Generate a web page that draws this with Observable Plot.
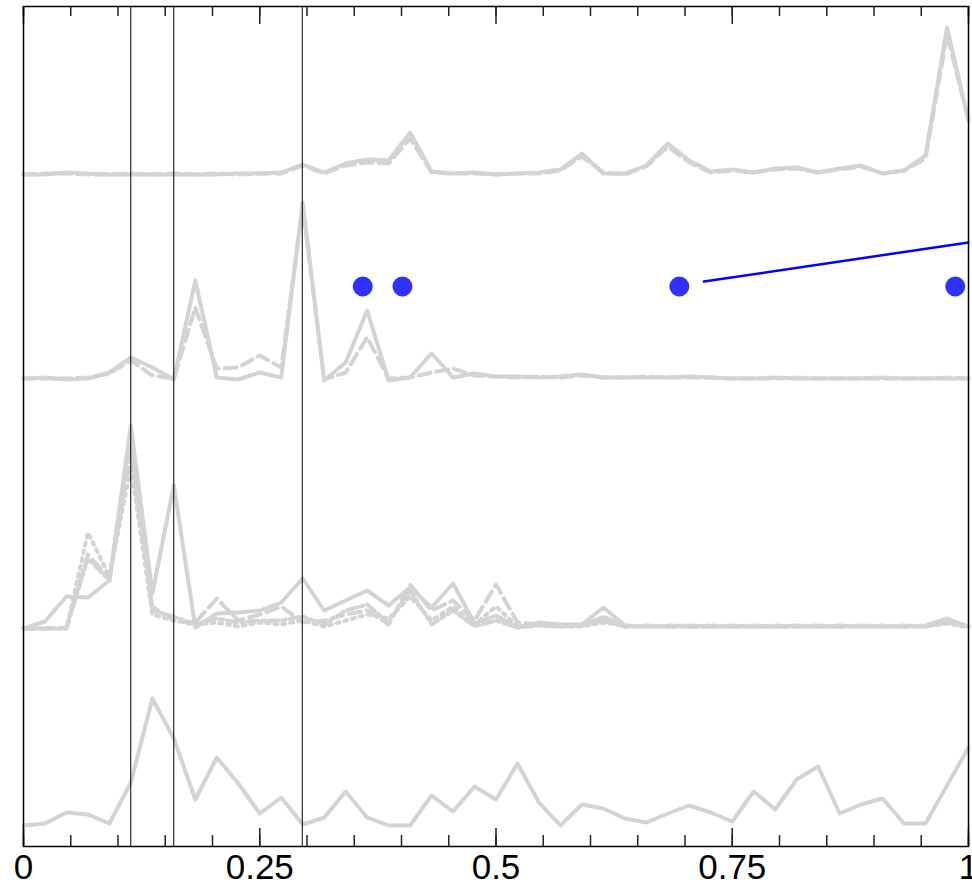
<!DOCTYPE html>
<html>
<head>
<meta charset="utf-8">
<script src="https://cdn.jsdelivr.net/npm/d3@7"></script>
<script src="https://cdn.jsdelivr.net/npm/@observablehq/plot@0.6"></script>
<style>
  html, body { margin: 0; padding: 0; background: #fff; }
  #chart svg { display: block; font-family: "Liberation Sans", Arial, sans-serif; }
</style>
</head>
<body>
<div id="chart"></div>
<script>
// Sample grid: 45 evenly spaced positions on [0, 1]
const sampleX = d3.range(45).map(i => i / 44);

// Stacked traces (top to bottom), each already carrying its stacking offset
const g1Solid  = [672,672,674,673,672,672,672,672,672,672,673,673,674,682,674,683,687,686,714,675,673,674,672,673,674,677,693,673,673,681,703,686,675,677,674,678,679,674,678,681,673,676,691,819,726];
const g1Dashed = [672,673,673,672,672,673,672,673,672,673,672,673,673,681,673,681,684,683,708,674,673,673,672,673,673,676,690,674,672,680,700,684,674,676,674,677,678,674,677,680,673,676,688,812,726];

const g2Solid  = [468,469,467,468,474,489,479,467,566,469,467,474,469,644,466,484,536,466,469,493,469,473,470,470,469,470,472,469,469,469,469,470,469,468,468,469,468,468,468,468,469,468,468,468,468];
const g2Dashed = [468,468,468,469,473,486,471,468,539,478,479,491,479,640,467,474,509,468,469,474,478,471,470,469,470,469,471,469,469,470,469,469,469,468,468,468,469,468,468,468,468,468,468,469,468];

const g3Solid   = [218,225,250,249,266,421,253,361,219,233,234,236,244,268,236,246,256,241,259,239,263,223,231,219,224,222,222,239,221,220,220,221,220,220,220,220,221,220,220,221,220,220,221,228,220];
const g3Dashed  = [218,218,219,292,268,395,240,226,224,248,226,232,240,224,226,232,236,222,262,236,246,226,262,224,222,221,221,226,220,220,221,220,220,221,220,220,220,221,220,220,220,221,220,224,220];
const g3Dotted  = [218,218,218,314,270,380,232,226,222,224,220,224,222,226,220,226,232,228,250,226,240,222,240,220,221,220,220,224,221,220,220,220,221,220,220,221,220,220,220,220,221,220,220,223,219];
const g3DashDot = [218,218,218,288,266,410,236,230,222,228,224,226,226,230,222,236,242,224,256,222,236,220,226,219,221,220,221,230,220,221,220,220,220,220,221,220,220,220,221,220,220,220,220,225,220];

const g4Solid = [21,23,34,32,23,64,148,108,47,89,63,33,49,22,29,55,29,21,21,51,35,60,47,83,44,21,42,38,28,24,33,41,34,25,55,37,67,80,33,42,48,23,23,61,99];

// Vertical reference positions
const refX = [0.1135, 0.159, 0.295];

// Highlighted points and segment
const dotX = [0.359, 0.401, 0.694, 0.986];
const dotY = [560, 560, 560, 560];
const segX = [0.72, 1.0];
const segY = [565, 604];

// Axis ticks
const majorTicks = [0, 0.25, 0.5, 0.75, 1];
const minorTicks = d3.range(21).map(i => i / 20);

const traces = [
  {values: g1Solid, dash: null},
  {values: g1Dashed, dash: "12,6"},
  {values: g2Dashed, dash: "12,6"},
  {values: g2Solid, dash: null},
  {values: g3Dashed, dash: "12,6"},
  {values: g3Dotted, dash: "3,5"},
  {values: g3DashDot, dash: "10,4,3,4"},
  {values: g3Solid, dash: null},
  {values: g4Solid, dash: null}
];

const gray = "#d3d3d3";
const plotH = 840;

const lineMarks = traces.map(t =>
  Plot.line(t.values.map((v, i) => ({x: sampleX[i], y: v})), {
    x: "x", y: "y", stroke: gray, strokeWidth: 4,
    strokeDasharray: t.dash ?? undefined, strokeLinejoin: "round"
  })
);

const chart = Plot.plot({
  width: 972,
  height: 889,
  marginLeft: 23,
  marginRight: 4,
  marginTop: 6,
  marginBottom: 43,
  x: {domain: [0, 1], label: null},
  y: {domain: [0, 840], axis: null},
  marks: [
    ...lineMarks,
    Plot.ruleX(refX, {stroke: "#000", strokeWidth: 1}),
    Plot.line(segX.map((x, i) => ({x, y: segY[i]})), {x: "x", y: "y", stroke: "#0000ff", strokeWidth: 2.5}),
    Plot.dot(dotX.map((x, i) => ({x, y: dotY[i]})), {x: "x", y: "y", r: 10, fill: "#3030ff", stroke: "none"}),
    // inward ticks, bottom and top
    Plot.tickX(minorTicks, {x: d => d, stroke: "#222", strokeWidth: 1.5, insetTop: plotH - 11}),
    Plot.tickX(majorTicks, {x: d => d, stroke: "#222", strokeWidth: 1.5, insetTop: plotH - 18}),
    Plot.tickX(minorTicks, {x: d => d, stroke: "#222", strokeWidth: 1.5, insetBottom: plotH - 10}),
    Plot.tickX(majorTicks, {x: d => d, stroke: "#222", strokeWidth: 1.5, insetBottom: plotH - 18}),
    Plot.axisX(majorTicks, {anchor: "bottom", label: null, tickSize: 0, tickPadding: 8, fontSize: 35, fill: "#000", tickFormat: d => String(d)}),
    Plot.frame({stroke: "#000", strokeWidth: 1.5})
  ]
});

document.getElementById("chart").appendChild(chart);
</script>
</body>
</html>
